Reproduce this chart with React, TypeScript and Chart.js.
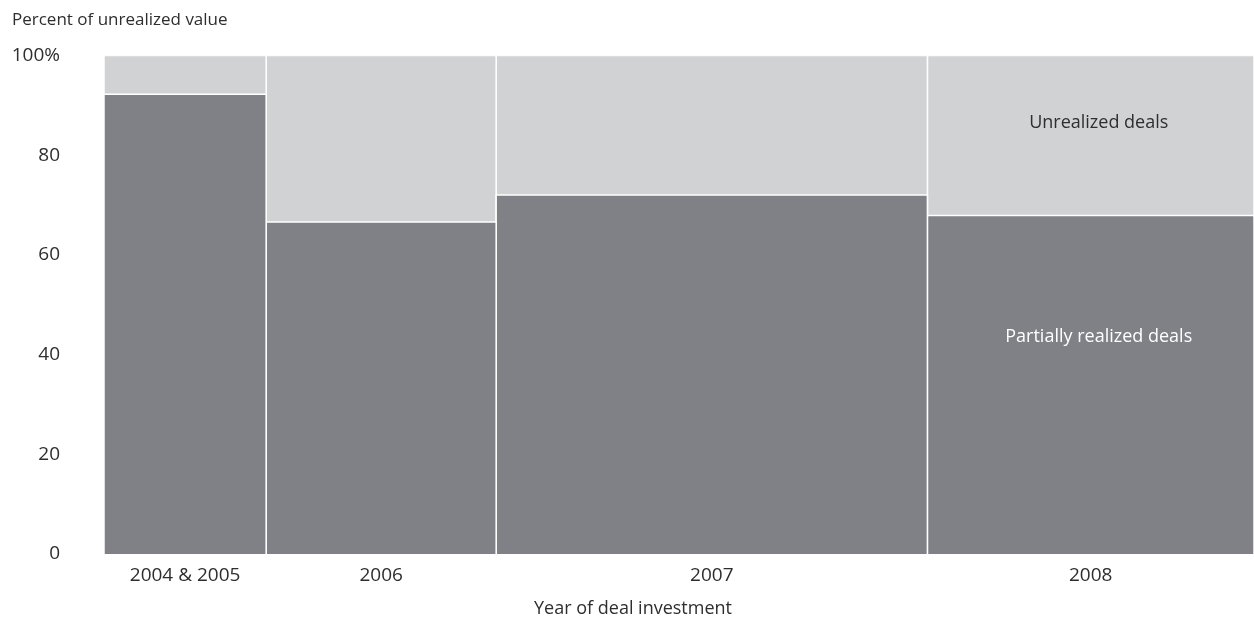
import React, { useEffect, useRef } from "react";
import { Chart, registerables } from "chart.js";

Chart.register(...registerables);

const categories = ["2004 & 2005", "2006", "2007", "2008"];
const columnWidths = [14.1, 20.0, 37.5, 28.4]; // share of total width (%)
const partiallyRealized = [92.2, 66.6, 72.0, 67.9]; // % of unrealized value
const yTickValues = [0, 20, 40, 60, 80, 100];
const inlineLabels = ["Unrealized deals", "Partially realized deals"];
const inlineLabelX = [86.5, 86.5];
const inlineLabelY = [86.4, 43.6];
const inlineLabelColors = ["#2e2e30", "#ffffff"];

const DARK = "#808186";
const LIGHT = "#d1d2d4";
const TEXT = "#2e2e30";
const FONT = "'Open Sans', sans-serif";

export default function App() {
  const ref = useRef<HTMLCanvasElement | null>(null);

  useEffect(() => {
    document.body.style.margin = "0";
    const starts: number[] = [];
    let acc = 0;
    columnWidths.forEach((w) => {
      starts.push(acc);
      acc += w;
    });
    const centers = columnWidths.map((w, i) => starts[i] + w / 2);

    const datasets: any[] = [];
    categories.forEach((c, i) => {
      const x0 = starts[i];
      const x1 = starts[i] + columnWidths[i];
      datasets.push({
        label: c + " unrealized",
        data: [
          { x: x0, y: 0 },
          { x: x0, y: 100 },
          { x: x1, y: 100 },
          { x: x1, y: 0 },
        ],
        fill: "origin",
        backgroundColor: LIGHT,
        borderColor: "#ffffff",
        borderWidth: 1.5,
        pointRadius: 0,
        tension: 0,
        order: 2,
      });
      datasets.push({
        label: c + " partially realized",
        data: [
          { x: x0, y: 0 },
          { x: x0, y: partiallyRealized[i] },
          { x: x1, y: partiallyRealized[i] },
          { x: x1, y: 0 },
        ],
        fill: "origin",
        backgroundColor: DARK,
        borderColor: "#ffffff",
        borderWidth: 1.5,
        pointRadius: 0,
        tension: 0,
        order: 1,
      });
    });

    const labelPlugin = {
      id: "inlineLabels",
      afterDatasetsDraw(chart: any) {
        const { ctx, scales } = chart;
        ctx.save();
        ctx.font = `18px ${FONT}`;
        ctx.textAlign = "center";
        ctx.textBaseline = "middle";
        inlineLabels.forEach((t, i) => {
          ctx.fillStyle = inlineLabelColors[i];
          ctx.fillText(
            t,
            scales.x.getPixelForValue(inlineLabelX[i]),
            scales.y.getPixelForValue(inlineLabelY[i])
          );
        });
        ctx.restore();
      },
    };

    const chart = new Chart(ref.current as HTMLCanvasElement, {
      type: "line",
      data: { datasets },
      options: {
        animation: false,
        responsive: true,
        maintainAspectRatio: false,
        layout: { padding: { left: 12, right: 0, top: 0, bottom: 0 } },
        plugins: {
          legend: { display: false },
          tooltip: { enabled: false },
          subtitle: {
            display: true,
            text: "Percent of unrealized value",
            position: "top",
            align: "start",
            color: TEXT,
            font: { family: FONT, size: 17, weight: "normal" },
            padding: { top: 3.4, bottom: 24.8 },
          },
          title: {
            display: true,
            text: "Year of deal investment",
            position: "bottom",
            align: "center",
            color: TEXT,
            font: { family: FONT, size: 18, weight: "normal" },
            padding: { top: 12.8, bottom: 0.2 },
          },
        },
        scales: {
          x: {
            type: "linear",
            min: 0,
            max: 100,
            grid: { display: false, drawTicks: false },
            border: { display: false },
            afterBuildTicks: (scale: any) => {
              scale.ticks = centers.map((v) => ({ value: v }));
            },
            afterFit: (scale: any) => {
              scale.height = 31.4;
            },
            ticks: {
              autoSkip: false,
              maxRotation: 0,
              padding: 10.6,
              color: TEXT,
              font: { family: FONT, size: 19 },
              callback: (_v: any, idx: number) => categories[idx],
            },
          },
          y: {
            type: "linear",
            min: 0,
            max: 100,
            grid: { display: false, drawTicks: false },
            border: { display: false },
            afterBuildTicks: (scale: any) => {
              scale.ticks = yTickValues.map((v) => ({ value: v }));
            },
            afterFit: (scale: any) => {
              scale.width = 92;
            },
            ticks: {
              padding: 44,
              color: TEXT,
              font: { family: FONT, size: 19 },
              callback: (v: any) => (v === 100 ? "100%" : String(v)),
            },
          },
        },
      },
      plugins: [labelPlugin],
    });
    return () => chart.destroy();
  }, []);

  return (
    <div style={{ width: 1254, height: 620, position: "relative" }}>
      <canvas ref={ref} />
    </div>
  );
}
